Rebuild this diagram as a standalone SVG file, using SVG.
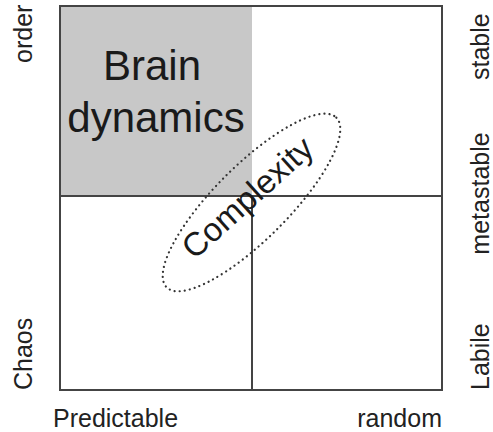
<svg xmlns="http://www.w3.org/2000/svg" width="493" height="432" viewBox="0 0 493 432">
<style>
.lbl{font-family:"Liberation Sans",Arial,sans-serif;font-size:25px;fill:#222}
.big{font-family:"Liberation Sans",Arial,sans-serif;font-size:42px;fill:#1a1a1a;text-anchor:middle}
.ln{stroke:#444;stroke-width:2;fill:none}
</style>
<rect width="493" height="432" fill="#fff"/>
<g id="quadrant-brain">
<rect x="60" y="6" width="192" height="190" fill="#c8c8c8"/>
<text class="big" x="152" y="80">Brain</text>
<text class="big" x="156" y="132">dynamics</text>
</g>
<g id="grid">
<rect class="ln" x="60" y="6" width="382" height="384"/>
<line class="ln" x1="252" y1="196" x2="442" y2="196"/>
<line class="ln" x1="252" y1="196" x2="252" y2="390"/>
<line class="ln" x1="60" y1="196" x2="252" y2="196" stroke="#666"/>
</g>
<g id="complexity">
<ellipse cx="251.5" cy="202.5" rx="120" ry="37" transform="rotate(-45 251.5 202.5)" fill="none" stroke="#333" stroke-width="2.2" stroke-dasharray="0.1 5" stroke-linecap="round"/>
<text x="0" y="0" transform="translate(255 206) rotate(-42)" style="font-family:'Liberation Sans',Arial,sans-serif;font-size:33px;fill:#1a1a1a;text-anchor:middle">Complexity</text>
</g>
<g id="labels">
<text class="lbl" transform="translate(32 63) rotate(-90)">order</text>
<text class="lbl" transform="translate(32 390) rotate(-90)">Chaos</text>
<text class="lbl" transform="translate(489 80) rotate(-90)">stable</text>
<text class="lbl" transform="translate(489 193.5) rotate(-90)" text-anchor="middle">metastable</text>
<text class="lbl" transform="translate(489 390) rotate(-90)">Labile</text>
<text class="lbl" x="53" y="427">Predictable</text>
<text class="lbl" x="442" y="427" text-anchor="end">random</text>
</g>
</svg>
